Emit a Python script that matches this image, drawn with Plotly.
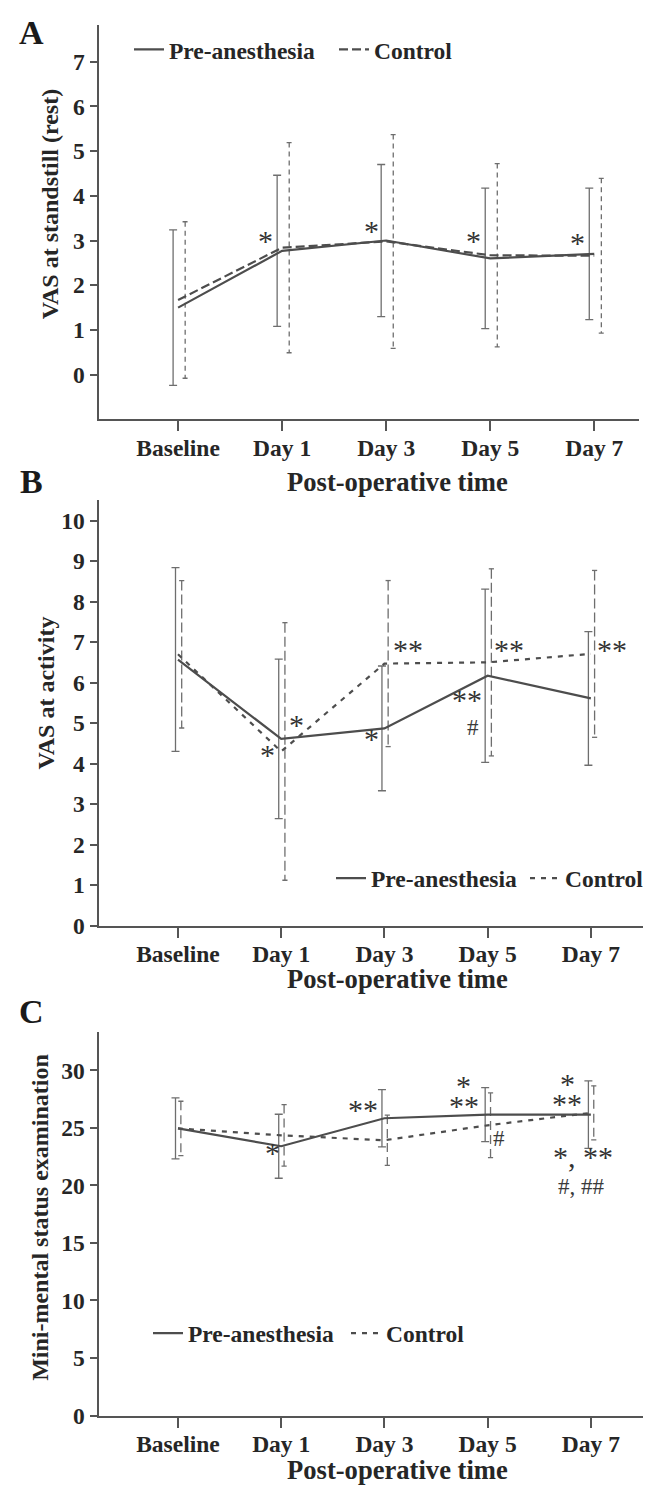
import plotly.graph_objects as go

categories = ["Baseline", "Day 1", "Day 3", "Day 5", "Day 7"]

# Panel A: VAS at standstill (rest)
a_pre_mean = [1.50, 2.77, 3.00, 2.60, 2.70]
a_pre_sd = [1.74, 1.69, 1.70, 1.57, 1.47]
a_ctl_mean = [1.67, 2.84, 2.98, 2.67, 2.66]
a_ctl_sd = [1.75, 2.35, 2.39, 2.05, 1.73]

# Panel B: VAS at activity
b_pre_mean = [6.57, 4.61, 4.87, 6.17, 5.61]
b_pre_sd = [2.27, 1.97, 1.54, 2.14, 1.65]
b_ctl_mean = [6.70, 4.30, 6.47, 6.50, 6.71]
b_ctl_sd = [1.82, 3.18, 2.05, 2.31, 2.06]

# Panel C: Mini-mental status examination
c_pre_mean = [24.95, 23.40, 25.83, 26.15, 26.15]
c_pre_sd = [2.65, 2.78, 2.48, 2.35, 2.93]
c_ctl_mean = [24.95, 24.35, 23.92, 25.22, 26.30]
c_ctl_sd = [2.36, 2.67, 2.19, 2.81, 2.35]

# significance marks: (text, category index, y value)
a_marks = [("*", 1, 2.96), ("*", 2, 3.19), ("*", 3, 2.95), ("*", 4, 2.90)]
a_mark_dx = [-0.16, -0.145, -0.16, -0.165]
b_marks = [("*", 1, 4.18), ("*", 1, 4.92), ("*", 2, 4.57), ("**", 2, 6.76),
           ("**", 3, 5.53), ("#", 3, 4.88), ("**", 3, 6.76), ("**", 4, 6.76)]
b_mark_dx = [-0.135, 0.145, -0.13, 0.23, -0.2, -0.145, 0.21, 0.2]
c_marks = [("*", 1, 22.64), ("**", 2, 26.39), ("*", 3, 28.5), ("**", 3, 26.8),
           ("#", 3, 24.08), ("*", 4, 28.65), ("**", 4, 26.96),
           ("*, **", 4, 22.3), ("#, ##", 4, 19.9)]
c_mark_dx = [-0.08, -0.21, -0.23, -0.23, 0.11, -0.23, -0.23, -0.08, -0.09]

FONT = "Liberation Serif"
TXT = "#262626"
LINE = "#4d4d4d"
BAR = "#6e6e6e"
xs = list(range(len(categories)))
W, H = 651, 1490

fig = go.Figure()


def dashed_bars(mean, sd, off, cap):
    bx, by = [], []
    for i, (m, s) in enumerate(zip(mean, sd)):
        x = xs[i] + off
        bx += [x - cap, x + cap, None, x, x, None, x - cap, x + cap, None]
        by += [m + s, m + s, None, m + s, m - s, None, m - s, m - s, None]
    return bx, by


def panel(xa, ya, leg_pre, leg_ctl, pre_m, pre_s, ctl_m, ctl_s, pre_off,
          ctl_off, ctl_line_dash, ctl_bar_dash):
    fig.add_trace(go.Scatter(
        x=[v + pre_off for v in xs], y=pre_m, mode="markers",
        marker=dict(size=1, color="rgba(0,0,0,0)"),
        error_y=dict(type="data", array=pre_s, visible=True, color=BAR,
                     thickness=1.3, width=4),
        xaxis=xa, yaxis=ya, showlegend=False, hoverinfo="skip"))
    bx, by = dashed_bars(ctl_m, ctl_s, ctl_off, 0.025)
    fig.add_trace(go.Scatter(
        x=bx, y=by, mode="lines",
        line=dict(color=BAR, width=1.3, dash=ctl_bar_dash),
        xaxis=xa, yaxis=ya, showlegend=False, hoverinfo="skip"))
    fig.add_trace(go.Scatter(
        x=xs, y=pre_m, mode="lines", name="Pre-anesthesia",
        line=dict(color=LINE, width=2.2), xaxis=xa, yaxis=ya,
        legend=leg_pre))
    fig.add_trace(go.Scatter(
        x=xs, y=ctl_m, mode="lines", name="Control",
        line=dict(color=LINE, width=2.2, dash=ctl_line_dash),
        xaxis=xa, yaxis=ya, legend=leg_ctl))


panel("x", "y", "legend", "legend2", a_pre_mean, a_pre_sd, a_ctl_mean,
      a_ctl_sd, -0.048, 0.068, "9px,4px", "5px,4px")
panel("x2", "y2", "legend3", "legend4", b_pre_mean, b_pre_sd, b_ctl_mean,
      b_ctl_sd, -0.024, 0.036, "5px,6px", "10px,4px")
panel("x3", "y3", "legend5", "legend6", c_pre_mean, c_pre_sd, c_ctl_mean,
      c_ctl_sd, -0.024, 0.028, "5px,6px", "9px,5px")

axis_common = dict(
    showline=True, linecolor="#555555", linewidth=2, ticks="outside",
    tickwidth=1.5, tickcolor="#555555", showgrid=False, zeroline=False,
    tickfont=dict(family=FONT, size=23.5, color=TXT, weight="bold"))
x_common = dict(ticklen=10, ticklabelstandoff=-4, **axis_common)
y_common = dict(ticklen=7, **axis_common)

xdom_a = [90.5 / W, 631 / W]
xdom_bc = [90.5 / W, 1.0]

fig.update_layout(
    width=W, height=H, autosize=False,
    margin=dict(l=0, r=0, t=0, b=0),
    paper_bgcolor="white", plot_bgcolor="white",
    xaxis=dict(domain=xdom_a, range=[-0.765, 4.43], tickvals=xs,
               ticktext=categories, anchor="y", **x_common),
    yaxis=dict(domain=[1 - 415 / H, 1 - 16.7 / H], range=[-1, 7.83],
               tickvals=list(range(0, 8)), anchor="x", **y_common),
    xaxis2=dict(domain=xdom_bc, range=[-0.77, 4.66], tickvals=xs,
                ticktext=categories, anchor="y2", **x_common),
    yaxis2=dict(domain=[1 - 925.7 / H, 1 - 496.7 / H], range=[0, 10.5],
                tickvals=list(range(0, 11)), anchor="x2", **y_common),
    xaxis3=dict(domain=xdom_bc, range=[-0.77, 4.66], tickvals=xs,
                ticktext=categories, anchor="y3", **x_common),
    yaxis3=dict(domain=[1 - 1420 / H, 1 - 1033.3 / H], range=[0, 33.3],
                tickvals=list(range(0, 31, 5)), anchor="x3", **y_common),
)

leg_common = dict(orientation="h", yanchor="middle", xanchor="left",
                  bgcolor="rgba(0,0,0,0)", borderwidth=0,
                  font=dict(family=FONT, size=23.5, color=TXT,
                            weight="bold"),
                  itemwidth=30)
fig.update_layout(
    legend=dict(x=121 / W, y=1 - 42 / H, **leg_common),
    legend2=dict(x=326 / W, y=1 - 42 / H, **leg_common),
    legend3=dict(x=323 / W, y=1 - 878 / H, **leg_common),
    legend4=dict(x=517 / W, y=1 - 878 / H, **leg_common),
    legend5=dict(x=140 / W, y=1 - 1337 / H, **leg_common),
    legend6=dict(x=338 / W, y=1 - 1337 / H, **leg_common),
)

ann = []
title_font = dict(family=FONT, size=26.6, color=TXT, weight="bold")
ytitle_font = dict(family=FONT, size=24, color=TXT, weight="bold")
letter_font = dict(family=FONT, size=34, color="#1a1a1a", weight="bold")
for y_px in (478, 980, 1475):
    ann.append(dict(text="Post-operative time", x=389.5 / W, y=1 - y_px / H,
                    xref="paper", yref="paper", showarrow=False,
                    font=title_font, xanchor="center", yanchor="middle"))
for txt, x_px, y_px in (("VAS at standstill (rest)", 42, 198),
                        ("VAS at activity", 37.5, 691),
                        ("Mini-mental status examination", 32.5, 1220)):
    ann.append(dict(text=txt, x=x_px / W, y=1 - y_px / H, xref="paper",
                    yref="paper", showarrow=False, textangle=-90,
                    font=ytitle_font, xanchor="center", yanchor="middle"))
for txt, y_px in (("A", 25), ("B", 478), ("C", 1012)):
    ann.append(dict(text=txt, x=23 / W, y=1 - y_px / H, xref="paper",
                    yref="paper", showarrow=False, font=letter_font,
                    xanchor="center", yanchor="middle"))

star_font = dict(family=FONT, size=30, color="#333333")
sharp_font = dict(family=FONT, size=23, color="#3a3a3a")
for marks, dxs, xr, yr in ((a_marks, a_mark_dx, "x", "y"),
                           (b_marks, b_mark_dx, "x2", "y2"),
                           (c_marks, c_mark_dx, "x3", "y3")):
    for (txt, ci, yv), dx in zip(marks, dxs):
        is_star = txt.startswith("*")
        ann.append(dict(text=txt, x=xs[ci] + dx, y=yv, xref=xr, yref=yr,
                        showarrow=False,
                        font=star_font if is_star else sharp_font,
                        xanchor="center", yanchor="middle",
                        yshift=2 if is_star else 0))

fig.update_layout(annotations=ann)
fig.write_html("out.html")
